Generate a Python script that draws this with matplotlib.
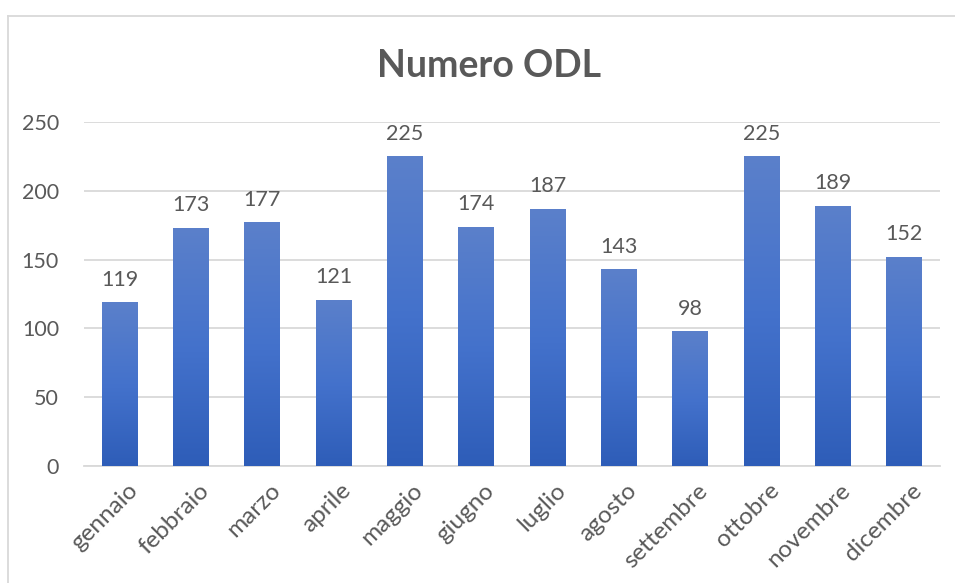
import numpy as np
import matplotlib.pyplot as plt
import matplotlib.transforms as mtransforms
from matplotlib.colors import LinearSegmentedColormap
from matplotlib.lines import Line2D

# Chart data
mesi = ['gennaio', 'febbraio', 'marzo', 'aprile', 'maggio', 'giugno',
        'luglio', 'agosto', 'settembre', 'ottobre', 'novembre', 'dicembre']
odl = [119, 173, 177, 121, 225, 174, 187, 143, 98, 225, 189, 152]

plt.rcParams['font.family'] = ['Lato', 'DejaVu Sans']
grey = '#595959'

fig = plt.figure(figsize=(9.55, 5.83), dpi=100)
ax = fig.add_axes([0.088, 0.2007, 0.896, 0.59])

x = np.arange(len(mesi))
bars = ax.bar(x, odl, width=0.5, color='#4472C4', zorder=2)

# vertical gradient inside each bar (light top, dark bottom)
cmap = LinearSegmentedColormap.from_list('blu', ['#2E5DB8', '#4472CC', '#5B80CA'])
grad = np.linspace(0, 1, 256).reshape(-1, 1)
for b in bars:
    x0, y0 = b.get_x(), b.get_y()
    w, h = b.get_width(), b.get_height()
    im = ax.imshow(grad, extent=[x0, x0 + w, y0, y0 + h], origin='lower',
                   aspect='auto', cmap=cmap, zorder=3)
    im.set_clip_path(b)
    ax.annotate(str(int(h)), (x0 + w / 2, h), xytext=(0, 9),
                textcoords='offset points', ha='center', va='bottom',
                fontsize=15.5, color=grey)

ax.set_xlim(-0.5, len(mesi) - 0.5)
ax.set_ylim(0, 250)
ax.set_yticks([0, 50, 100, 150, 200, 250])
ax.set_xticks(x)
ax.set_xticklabels(mesi, rotation=45, ha='right', rotation_mode='anchor')
ax.tick_params(axis='both', length=0, labelsize=15.5, labelcolor=grey)
ax.tick_params(axis='x', labelsize=17.5, pad=10)
ax.tick_params(axis='y', pad=18)

# nudge month labels a bit to the right, as in the original
shift = mtransforms.ScaledTranslation(7 / 100, 0, fig.dpi_scale_trans)
for lab in ax.get_xticklabels():
    lab.set_transform(lab.get_transform() + shift)

ax.grid(axis='y', color='#D9D9D9', linewidth=1.3, zorder=0)
ax.set_axisbelow(True)
for s in ['top', 'right', 'left']:
    ax.spines[s].set_visible(False)
ax.spines['bottom'].set_color('#D9D9D9')
ax.spines['bottom'].set_linewidth(1.3)

fig.text(0.512, 0.887, 'Numero ODL', ha='center', va='center',
         fontsize=27, fontweight='bold', color=grey)

# chart frame (top and left edges visible in the crop)
fig.add_artist(Line2D([8 / 955, 1], [1 - 16 / 583, 1 - 16 / 583],
                      transform=fig.transFigure, color='#D9D9D9', linewidth=1.3))
fig.add_artist(Line2D([8 / 955, 8 / 955], [0, 1 - 16 / 583],
                      transform=fig.transFigure, color='#D9D9D9', linewidth=1.3))

fig.savefig('out.png', dpi=100)
